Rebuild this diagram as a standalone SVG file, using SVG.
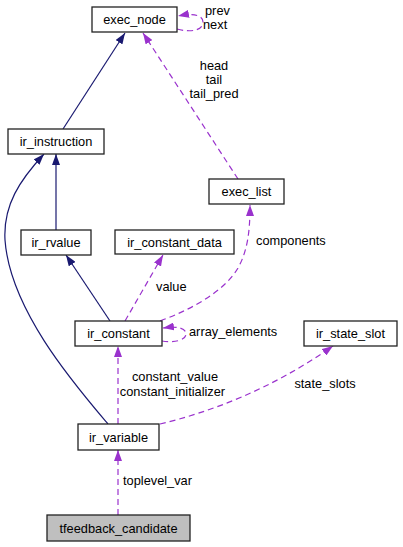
<svg xmlns="http://www.w3.org/2000/svg" width="403" height="547" viewBox="0 0 403 547">
<style>
text{font-family:"Liberation Sans",Arial,sans-serif;font-size:12.8px;fill:#000}
.n rect{fill:#fff;stroke:#222;stroke-width:1.3}
.n text{text-anchor:middle}
.inh{fill:none;stroke:#191970;stroke-width:1.2}
.use{fill:none;stroke:#9a32cd;stroke-width:1.2;stroke-dasharray:6,4}
.lbl{text-anchor:middle}
</style>
<defs>
<marker id="aN" markerUnits="userSpaceOnUse" viewBox="0 0 11 8" refX="11" refY="4" markerWidth="11" markerHeight="8" orient="auto"><path d="M0,0L11,4L0,8z" fill="#191970"/></marker>
<marker id="aP" markerUnits="userSpaceOnUse" viewBox="0 0 11 8" refX="11" refY="4" markerWidth="11" markerHeight="8" orient="auto"><path d="M0,0L11,4L0,8z" fill="#9a32cd"/></marker>
</defs>
<rect width="403" height="547" fill="#fff"/>
<g id="edges">
<path class="inh" d="M63,129L125,33" marker-end="url(#aN)"/>
<path class="use" d="M238,179L143,33" marker-end="url(#aP)"/>
<path class="use" d="M177,29C192,33 203,30 203,22C203,15 193,13 178,16" marker-end="url(#aP)"/>
<path class="inh" d="M56,230L56,154" marker-end="url(#aN)"/>
<path class="inh" d="M108,424C75,385 10,310 5,240C3,205 20,180 44,154" marker-end="url(#aN)"/>
<path class="inh" d="M110,321L66,255" marker-end="url(#aN)"/>
<path class="use" d="M125,321L163,255" marker-end="url(#aP)"/>
<path class="use" d="M160,321C195,308 225,290 238,268C248,250 250,230 250,205" marker-end="url(#aP)"/>
<path class="use" d="M162,341C175,343 186,340 186,334C186,328 177,326 163,328" marker-end="url(#aP)"/>
<path class="use" d="M118,424L118,346" marker-end="url(#aP)"/>
<path class="use" d="M160,424C210,412 270,390 333,346" marker-end="url(#aP)"/>
<path class="use" d="M118,515L118,450" marker-end="url(#aP)"/>
<text x="205" y="15">prev</text>
<text x="203" y="29">next</text>
<text class="lbl" x="214" y="70">head</text>
<text class="lbl" x="214" y="84">tail</text>
<text class="lbl" x="214" y="98">tail_pred</text>
<text x="256" y="245">components</text>
<text x="156" y="291">value</text>
<text x="189" y="336">array_elements</text>
<text class="lbl" x="175" y="381">constant_value</text>
<text class="lbl" x="172.5" y="396">constant_initializer</text>
<text class="lbl" x="325" y="388">state_slots</text>
<text x="123" y="485">toplevel_var</text>
</g>
<g id="exec_node" class="n"><rect x="92" y="7" width="85" height="25"/><text x="134.5" y="24">exec_node</text></g>
<g id="ir_instruction" class="n"><rect x="8" y="129" width="96" height="25"/><text x="56" y="146">ir_instruction</text></g>
<g id="exec_list" class="n"><rect x="209" y="179" width="75" height="25"/><text x="246.5" y="196">exec_list</text></g>
<g id="ir_rvalue" class="n"><rect x="21" y="230" width="70" height="25"/><text x="56" y="247">ir_rvalue</text></g>
<g id="ir_constant_data" class="n"><rect x="115" y="230" width="119" height="24"/><text x="174.5" y="246.5">ir_constant_data</text></g>
<g id="ir_constant" class="n"><rect x="75" y="321" width="87" height="25"/><text x="118.5" y="338">ir_constant</text></g>
<g id="ir_state_slot" class="n"><rect x="304" y="321" width="93" height="25"/><text x="350.5" y="338">ir_state_slot</text></g>
<g id="ir_variable" class="n"><rect x="78" y="424" width="81" height="26"/><text x="118.5" y="441.5">ir_variable</text></g>
<g id="tfeedback_candidate" class="n"><rect x="47" y="515" width="143" height="26" style="fill:#bfbfbf"/><text x="118.5" y="532.5">tfeedback_candidate</text></g>
</svg>
